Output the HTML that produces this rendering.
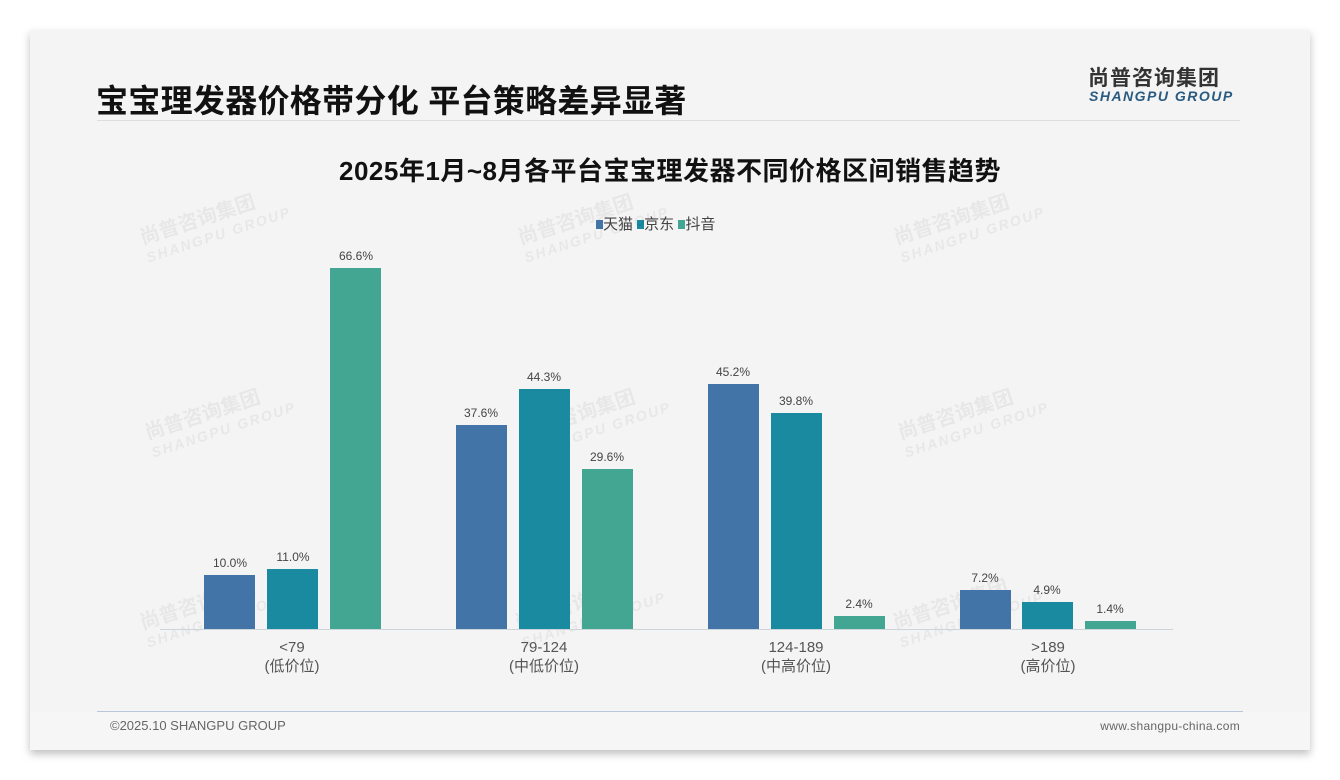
<!DOCTYPE html>
<html><head><meta charset="utf-8"><style>
body{margin:0;width:1340px;height:780px;background:#fff;position:relative;overflow:hidden;font-family:"Liberation Sans","Noto Sans CJK SC",sans-serif}
.card{position:absolute;left:30px;top:30px;width:1280px;height:720px;background:#f4f4f4;box-shadow:0 4px 8px rgba(0,0,0,0.25)}
.abs{position:absolute}
.bar{position:absolute;width:51px}
.lbl{position:absolute;width:60px;text-align:center;font-size:12px;color:#444}
.cat{position:absolute;width:140px;text-align:center;font-size:15px;color:#555;line-height:19px}
.wm{position:absolute;color:rgba(0,0,0,0.05);font-weight:bold;transform:rotate(-18deg);font-size:20px;line-height:20px}
.wm span{display:block;font-size:14px;font-style:italic;letter-spacing:2px}
</style></head><body>
<div class="card"></div>
<div class="abs" style="left:96px;top:76px;font-size:32px;font-weight:bold;color:#111;letter-spacing:0.3px">宝宝理发器价格带分化 平台策略差异显著</div>
<div class="abs" style="left:1088px;top:62px;font-size:21px;font-weight:bold;color:#333;letter-spacing:1px">尚普咨询集团</div>
<div class="abs" style="left:1089px;top:88px;font-size:14px;font-weight:bold;font-style:italic;color:#2a5a80;letter-spacing:1.5px">SHANGPU GROUP</div>
<div class="abs" style="left:97px;top:120px;width:1143px;height:1px;background:#ddd"></div>
<div class="abs" style="left:0;width:1340px;top:151px;text-align:center;font-size:26px;font-weight:bold;color:#111;letter-spacing:0.5px">2025年1月~8月各平台宝宝理发器不同价格区间销售趋势</div>
<div class="abs" style="left:596px;top:213px;font-size:15px;color:#444"><span style="display:inline-block;width:7px;height:9px;background:#4274a8"></span>天猫 <span style="display:inline-block;width:7px;height:9px;background:#1a8aa0"></span>京东 <span style="display:inline-block;width:7px;height:9px;background:#42a692"></span>抖音</div>
<div class="wm" style="left:140px;top:205px">尚普咨询集团<span>SHANGPU GROUP</span></div>
<div class="wm" style="left:518px;top:205px">尚普咨询集团<span>SHANGPU GROUP</span></div>
<div class="wm" style="left:894px;top:205px">尚普咨询集团<span>SHANGPU GROUP</span></div>
<div class="wm" style="left:145px;top:400px">尚普咨询集团<span>SHANGPU GROUP</span></div>
<div class="wm" style="left:520px;top:400px">尚普咨询集团<span>SHANGPU GROUP</span></div>
<div class="wm" style="left:898px;top:400px">尚普咨询集团<span>SHANGPU GROUP</span></div>
<div class="wm" style="left:140px;top:590px">尚普咨询集团<span>SHANGPU GROUP</span></div>
<div class="wm" style="left:515px;top:590px">尚普咨询集团<span>SHANGPU GROUP</span></div>
<div class="wm" style="left:893px;top:590px">尚普咨询集团<span>SHANGPU GROUP</span></div>

<div class="bar" style="left:204px;top:575px;height:54px;background:#4274a8"></div>
<div class="bar" style="left:267px;top:569px;height:60px;background:#1a8aa0"></div>
<div class="bar" style="left:330px;top:268px;height:361px;background:#42a692"></div>
<div class="bar" style="left:456px;top:425px;height:204px;background:#4274a8"></div>
<div class="bar" style="left:519px;top:389px;height:240px;background:#1a8aa0"></div>
<div class="bar" style="left:582px;top:469px;height:160px;background:#42a692"></div>
<div class="bar" style="left:708px;top:384px;height:245px;background:#4274a8"></div>
<div class="bar" style="left:771px;top:413px;height:216px;background:#1a8aa0"></div>
<div class="bar" style="left:834px;top:616px;height:13px;background:#42a692"></div>
<div class="bar" style="left:960px;top:590px;height:39px;background:#4274a8"></div>
<div class="bar" style="left:1022px;top:602px;height:27px;background:#1a8aa0"></div>
<div class="bar" style="left:1085px;top:621px;height:8px;background:#42a692"></div>
<div class="abs" style="left:160px;top:629px;width:1013px;height:1px;background:#ccd4dc"></div>

<div class="lbl" style="left:200px;top:556px">10.0%</div>
<div class="lbl" style="left:263px;top:550px">11.0%</div>
<div class="lbl" style="left:326px;top:249px">66.6%</div>
<div class="lbl" style="left:451px;top:406px">37.6%</div>
<div class="lbl" style="left:514px;top:370px">44.3%</div>
<div class="lbl" style="left:577px;top:450px">29.6%</div>
<div class="lbl" style="left:703px;top:365px">45.2%</div>
<div class="lbl" style="left:766px;top:394px">39.8%</div>
<div class="lbl" style="left:829px;top:597px">2.4%</div>
<div class="lbl" style="left:955px;top:571px">7.2%</div>
<div class="lbl" style="left:1017px;top:583px">4.9%</div>
<div class="lbl" style="left:1080px;top:602px">1.4%</div>

<div class="cat" style="left:222px;top:638px">&lt;79<br>(低价位)</div>
<div class="cat" style="left:474px;top:638px">79-124<br>(中低价位)</div>
<div class="cat" style="left:726px;top:638px">124-189<br>(中高价位)</div>
<div class="cat" style="left:978px;top:638px">&gt;189<br>(高价位)</div>

<div class="abs" style="left:30px;top:712px;width:1280px;height:38px;background:#f6f6f6"></div>
<div class="abs" style="left:97px;top:711px;width:1146px;height:1px;background:#b8c8d8"></div>
<div class="abs" style="left:110px;top:718px;font-size:13px;color:#666">©2025.10 SHANGPU GROUP</div>
<div class="abs" style="left:1091px;top:719px;width:149px;text-align:right;font-size:12px;color:#666;letter-spacing:0.3px">www.shangpu-china.com</div>
</body></html>
